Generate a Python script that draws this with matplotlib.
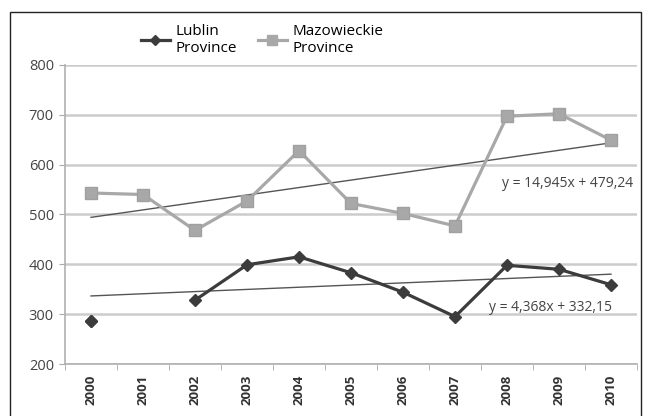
import numpy as np
import matplotlib.pyplot as plt
from matplotlib.lines import Line2D
from matplotlib.patches import Rectangle

plt.rcParams['font.family'] = ['Open Sans', 'DejaVu Sans']

years = ['2000', '2001', '2002', '2003', '2004', '2005', '2006', '2007', '2008', '2009', '2010']
lublin = [287, np.nan, 328, 399, 415, 383, 344, 295, 398, 390, 359]
mazowieckie = [543, 540, 468, 527, 628, 522, 502, 477, 697, 702, 649]
# linear trend coefficients as printed on the chart (x = 1..11)
lublin_trend = (4.368, 332.15)
mazow_trend = (14.945, 479.24)

fig = plt.figure(figsize=(6.5, 4.16), dpi=100)
ax = fig.add_axes([0.1, 0.125, 0.88, 0.719])

# outer frame
fig.patches.append(Rectangle((0.0154, -0.02), 0.97, 0.99, transform=fig.transFigure,
                             fill=False, edgecolor='#222222', linewidth=1.0))

x = np.arange(len(years))
n = np.arange(1, len(years) + 1)

ax.plot(x, mazowieckie, color='#a8a8a8', linewidth=2.3, marker='s', markersize=8,
        markeredgecolor='#a0a0a0', zorder=3)
ax.plot(x, lublin, color='#3c3c3c', linewidth=2.3, marker='D', markersize=6,
        zorder=4)
# isolated 2000 point for Lublin
ax.plot(x[0], lublin[0], color='#3c3c3c', marker='D', markersize=6, zorder=4)

ax.plot(x, mazow_trend[0] * n + mazow_trend[1], color='#555555', linewidth=1.0, zorder=2)
ax.plot(x, lublin_trend[0] * n + lublin_trend[1], color='#555555', linewidth=1.0, zorder=2)

ax.text(7.9, 562, 'y = 14,945x + 479,24', fontsize=10, color='#444444', va='center',
        clip_on=True)
ax.text(7.65, 314, 'y = 4,368x + 332,15', fontsize=10, color='#444444', va='center')

ax.set_xlim(-0.5, len(years) - 0.5)
ax.set_ylim(200, 800)
ax.set_yticks(range(200, 801, 100))
ax.yaxis.grid(True, color='#cccccc', linewidth=1.8)
ax.set_axisbelow(True)

ax.set_xticks(x)
ax.set_xticklabels(years, rotation=90, fontsize=9.5, fontweight='bold', color='#333333')
ax.set_xticks(np.arange(-0.5, len(years), 1.0), minor=True)
ax.tick_params(axis='x', which='major', length=0, pad=8)
ax.tick_params(axis='x', which='minor', length=4, color='#aaaaaa')
ax.tick_params(axis='y', length=4, color='#aaaaaa', labelsize=10.5, labelcolor='#444444', pad=4)

for s in ['top', 'right']:
    ax.spines[s].set_visible(False)
for s in ['left', 'bottom']:
    ax.spines[s].set_color('#b0b0b0')
    ax.spines[s].set_linewidth(1.2)

handles = [Line2D([], [], color='#3c3c3c', linewidth=2.3, marker='D', markersize=5),
           Line2D([], [], color='#a8a8a8', linewidth=2.3, marker='s', markersize=7)]
fig.legend(handles, ['Lublin\nProvince', 'Mazowieckie\nProvince'], loc='upper left',
           bbox_to_anchor=(0.207, 0.958), ncol=2, frameon=False, fontsize=11,
           handlelength=1.9, handletextpad=0.35, columnspacing=1.4,
           labelspacing=0.0, borderaxespad=0)

fig.savefig('out.png', dpi=100)
